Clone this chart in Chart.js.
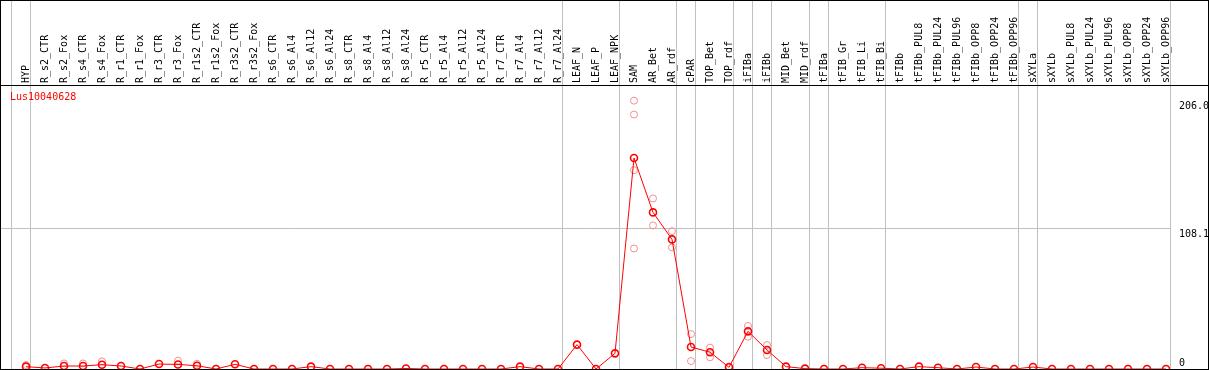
<!DOCTYPE html>
<html>
<head>
<meta charset="utf-8">
<script src="https://cdn.jsdelivr.net/npm/chart.js@4.4.1/dist/chart.umd.min.js"></script>
<style>
  html, body { margin: 0; padding: 0; background: #fff; }
  #wrap { position: relative; width: 1209px; height: 370px; }
  #frame { position: absolute; left: 0; top: 0; width: 1209px; height: 370px; box-sizing: border-box; border: 1px solid #000; pointer-events: none; }
  canvas { position: absolute; left: 0; top: 0; }
</style>
</head>
<body>
<div id="wrap">
  <canvas id="c" width="1209" height="370"></canvas>
  <div id="frame"></div>
</div>
<script>
const geneName = 'Lus10040628';

const categories = [
  'HYP','R_s2_CTR','R_s2_Fox','R_s4_CTR','R_s4_Fox','R_r1_CTR','R_r1_Fox','R_r3_CTR','R_r3_Fox',
  'R_r1s2_CTR','R_r1s2_Fox','R_r3s2_CTR','R_r3s2_Fox','R_s6_CTR','R_s6_Al4','R_s6_Al12','R_s6_Al24',
  'R_s8_CTR','R_s8_Al4','R_s8_Al12','R_s8_Al24','R_r5_CTR','R_r5_Al4','R_r5_Al12','R_r5_Al24',
  'R_r7_CTR','R_r7_Al4','R_r7_Al12','R_r7_Al24','LEAF_N','LEAF_P','LEAF_NPK','SAM','AR_Bet','AR_rdf',
  'cPAR','TOP_Bet','TOP_rdf','iFIBa','iFIBb','MID_Bet','MID_rdf','tFIBa','tFIB_Gr','tFIB_Li','tFIB_Bi',
  'tFIBb','tFIBb_PUL8','tFIBb_PUL24','tFIBb_PUL96','tFIBb_OPP8','tFIBb_OPP24','tFIBb_OPP96',
  'sXYLa','sXYLb','sXYLb_PUL8','sXYLb_PUL24','sXYLb_PUL96','sXYLb_OPP8','sXYLb_OPP24','sXYLb_OPP96'
];

// mean expression per sample
const meanValues = [
  1.8, 0.8, 2.3, 2.3, 3.3, 2.3, 0, 3.8, 3.5,
  2.5, 0, 3.6, 0, 0, 0, 1.8, 0,
  0, 0, 0, 0.4, 0, 0, 0, 0,
  0, 1.8, 0, 0, 18.7, 0, 12.0, 162.0, 120.2, 99.5,
  16.9, 12.9, 1.3, 28.9, 14.6, 1.8, 0.3, 0, 0, 1.0, 0.6,
  0, 1.8, 1.0, 0, 1.5, 0, 0,
  1.5, 0, 0, 0, 0, 0, 0, 0
];

// individual replicates that are visible apart from the mean
const repUpper = [
  3.1, null, 4.3, 4.3, 5.9, null, null, null, 6.4,
  4.0, null, null, null, null, null, null, null,
  null, null, null, null, null, null, null, null,
  null, null, null, null, null, null, null, 206.0, 130.9, 105.8,
  26.8, 16.4, 2.0, 33.0, 18.4, null, null, null, null, null, null,
  null, null, null, null, null, null, null,
  null, null, null, null, null, null, null, null
];
const repLower = [
  null, null, null, null, null, null, null, null, null,
  null, null, null, null, null, null, null, null,
  null, null, null, null, null, null, null, null,
  null, null, null, null, null, null, null, 92.5, 110.2, 93.3,
  6.1, 9.0, null, 24.8, 10.7, null, null, null, null, null, null,
  null, null, null, null, null, null, null,
  null, null, null, null, null, null, null, null
];
const repSAM = { SAM: [195.3, 152.6] };

// group separators: index of last sample in each group
const groupEnds = [-1, 0, 28, 31, 34, 35, 37, 38, 39, 41, 42, 45, 52, 53, 60];

// y-axis tick labels
const yTicks = [0, 108.1, 206.0];

const toPts = arr => arr.map((v, i) => (v === null ? null : { x: i, y: v })).filter(p => p);
const repPoints = toPts(repUpper).concat(toPts(repLower));
Object.keys(repSAM).forEach(k => {
  const i = categories.indexOf(k);
  repSAM[k].forEach(v => repPoints.push({ x: i, y: v }));
});

const FONT = { family: 'DejaVu Sans Mono', size: 10 };

const noPad = s => { s.paddingLeft = 0; s.paddingRight = 0; s.paddingTop = 0; s.paddingBottom = 0; };

const decor = {
  id: 'decor',
  afterDraw(chart) {
    const { ctx, chartArea } = chart;
    ctx.save();
    ctx.strokeStyle = '#000';
    ctx.lineWidth = 1;
    ctx.beginPath();
    ctx.moveTo(0, Math.round(chartArea.top) + 0.5);
    ctx.lineTo(chart.width, Math.round(chartArea.top) + 0.5);
    ctx.stroke();
    ctx.fillStyle = '#ff0000';
    ctx.font = '10px "DejaVu Sans Mono"';
    ctx.textBaseline = 'middle';
    ctx.fillText(geneName, chartArea.left + 9, chartArea.top + 12);
    ctx.restore();
  }
};

new Chart(document.getElementById('c'), {
  type: 'line',
  data: {
    datasets: [
      {
        label: geneName,
        data: meanValues.map((v, i) => ({ x: i, y: v })),
        borderColor: '#ff0000',
        borderWidth: 1,
        pointRadius: 3.5,
        pointBorderWidth: 1.6,
        pointBorderColor: '#ff0000',
        pointBackgroundColor: 'rgba(0,0,0,0)',
        fill: false,
        tension: 0,
        order: 0,
        clip: 0
      },
      {
        label: 'replicates',
        data: repPoints,
        showLine: false,
        pointRadius: 3.5,
        pointBorderWidth: 1,
        pointBorderColor: '#f09090',
        pointBackgroundColor: 'rgba(0,0,0,0)',
        order: 1,
        clip: 0
      }
    ]
  },
  options: {
    responsive: false,
    animation: false,
    devicePixelRatio: 1,
    layout: { autoPadding: false, padding: { left: 1, top: 1, right: 1, bottom: 1 } },
    plugins: { legend: { display: false }, tooltip: { enabled: false }, title: { display: false } },
    scales: {
      x: {
        type: 'linear',
        position: 'top',
        min: -25 / 19,
        max: -25 / 19 + 1169 / 19,
        afterBuildTicks: s => {
          const t = categories.map((c, i) => i).concat(groupEnds.map(g => g + 0.25));
          t.sort((a, b) => a - b);
          s.ticks = t.map(v => ({ value: v }));
        },
        afterFit: s => { s.height = 84; noPad(s); },
        ticks: {
          autoSkip: false,
          minRotation: 90,
          maxRotation: 90,
          padding: -82,
          labelOffset: 12,
          font: FONT,
          color: '#000',
          callback: v => (Number.isInteger(v) ? categories[v] : '')
        },
        grid: {
          drawOnChartArea: true,
          drawTicks: true,
          tickLength: 84,
          lineWidth: 1,
          color: c => (c.tick && !Number.isInteger(c.tick.value) ? '#c0c0c0' : 'rgba(0,0,0,0)')
        },
        border: { display: true, color: '#000', width: 1 }
      },
      y: {
        type: 'linear',
        position: 'right',
        min: 0,
        max: 218,
        afterBuildTicks: s => { s.ticks = yTicks.map(v => ({ value: v })); },
        afterFit: s => { s.width = 38; noPad(s); },
        ticks: {
          padding: 9,
          font: FONT,
          color: '#000',
          callback: v => (v === 0 ? ['0', ''] : ['', v.toFixed(1)])
        },
        grid: {
          drawTicks: false,
          lineWidth: 1,
          color: c => (c.tick && c.tick.value === 108.1 ? '#c0c0c0' : 'rgba(0,0,0,0)')
        },
        border: { display: false }
      }
    }
  },
  plugins: [decor]
});
</script>
</body>
</html>
